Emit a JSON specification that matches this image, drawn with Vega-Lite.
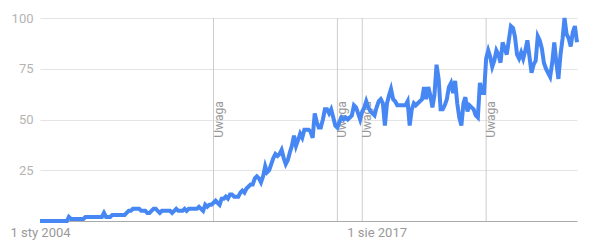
{
  "$schema": "https://vega.github.io/schema/vega-lite/v6.json",
  "width": 537,
  "height": 203,
  "autosize": {"type": "none"},
  "padding": {"left": 40, "top": 18, "right": 13, "bottom": 29},
  "background": "white",
  "config": {
    "view": {"stroke": null},
    "font": "Roboto",
    "axis": {"labelFont": "Roboto", "titleFont": "Roboto"}
  },
  "datasets": {
    "notes": [
      {"d": "2011-01-01"},
      {"d": "2016-01-01"},
      {"d": "2017-01-01"},
      {"d": "2022-01-01"}
    ],
    "trend": [
      {"d":"2004-01-01","v":0},{"d":"2004-02-01","v":0},{"d":"2004-03-01","v":0},{"d":"2004-04-01","v":0},{"d":"2004-05-01","v":0},{"d":"2004-06-01","v":0},{"d":"2004-07-01","v":0},{"d":"2004-08-01","v":0},{"d":"2004-09-01","v":0},{"d":"2004-10-01","v":0},{"d":"2004-11-01","v":0},{"d":"2004-12-01","v":0},
      {"d":"2005-01-01","v":0},{"d":"2005-02-01","v":0},{"d":"2005-03-01","v":2},{"d":"2005-04-01","v":1},{"d":"2005-05-01","v":1},{"d":"2005-06-01","v":1},{"d":"2005-07-01","v":1},{"d":"2005-08-01","v":1},{"d":"2005-09-01","v":1},{"d":"2005-10-01","v":1},{"d":"2005-11-01","v":2},{"d":"2005-12-01","v":2},
      {"d":"2006-01-01","v":2},{"d":"2006-02-01","v":2},{"d":"2006-03-01","v":2},{"d":"2006-04-01","v":2},{"d":"2006-05-01","v":2},{"d":"2006-06-01","v":2},{"d":"2006-07-01","v":2},{"d":"2006-08-01","v":4},{"d":"2006-09-01","v":2},{"d":"2006-10-01","v":2},{"d":"2006-11-01","v":2},{"d":"2006-12-01","v":3},
      {"d":"2007-01-01","v":3},{"d":"2007-02-01","v":3},{"d":"2007-03-01","v":3},{"d":"2007-04-01","v":3},{"d":"2007-05-01","v":3},{"d":"2007-06-01","v":3},{"d":"2007-07-01","v":4},{"d":"2007-08-01","v":5},{"d":"2007-09-01","v":5},{"d":"2007-10-01","v":6},{"d":"2007-11-01","v":6},{"d":"2007-12-01","v":6},
      {"d":"2008-01-01","v":6},{"d":"2008-02-01","v":5},{"d":"2008-03-01","v":5},{"d":"2008-04-01","v":5},{"d":"2008-05-01","v":4},{"d":"2008-06-01","v":4},{"d":"2008-07-01","v":5},{"d":"2008-08-01","v":6},{"d":"2008-09-01","v":6},{"d":"2008-10-01","v":5},{"d":"2008-11-01","v":4},{"d":"2008-12-01","v":5},
      {"d":"2009-01-01","v":5},{"d":"2009-02-01","v":5},{"d":"2009-03-01","v":5},{"d":"2009-04-01","v":5},{"d":"2009-05-01","v":4},{"d":"2009-06-01","v":5},{"d":"2009-07-01","v":6},{"d":"2009-08-01","v":5},{"d":"2009-09-01","v":5},{"d":"2009-10-01","v":5},{"d":"2009-11-01","v":6},{"d":"2009-12-01","v":5},
      {"d":"2010-01-01","v":6},{"d":"2010-02-01","v":6},{"d":"2010-03-01","v":6},{"d":"2010-04-01","v":6},{"d":"2010-05-01","v":6},{"d":"2010-06-01","v":7},{"d":"2010-07-01","v":6},{"d":"2010-08-01","v":5},{"d":"2010-09-01","v":8},{"d":"2010-10-01","v":7},{"d":"2010-11-01","v":8},{"d":"2010-12-01","v":8},
      {"d":"2011-01-01","v":9},{"d":"2011-02-01","v":10},{"d":"2011-03-01","v":9},{"d":"2011-04-01","v":8},{"d":"2011-05-01","v":11},{"d":"2011-06-01","v":11},{"d":"2011-07-01","v":12},{"d":"2011-08-01","v":11},{"d":"2011-09-01","v":13},{"d":"2011-10-01","v":13},{"d":"2011-11-01","v":12},{"d":"2011-12-01","v":12},
      {"d":"2012-01-01","v":12},{"d":"2012-02-01","v":14},{"d":"2012-03-01","v":15},{"d":"2012-04-01","v":14},{"d":"2012-05-01","v":16},{"d":"2012-06-01","v":17},{"d":"2012-07-01","v":18},{"d":"2012-08-01","v":18},{"d":"2012-09-01","v":21},{"d":"2012-10-01","v":22},{"d":"2012-11-01","v":21},{"d":"2012-12-01","v":19},
      {"d":"2013-01-01","v":22},{"d":"2013-02-01","v":27},{"d":"2013-03-01","v":24},{"d":"2013-04-01","v":25},{"d":"2013-05-01","v":28},{"d":"2013-06-01","v":31},{"d":"2013-07-01","v":33},{"d":"2013-08-01","v":32},{"d":"2013-09-01","v":33},{"d":"2013-10-01","v":35},{"d":"2013-11-01","v":31},{"d":"2013-12-01","v":28},
      {"d":"2014-01-01","v":30},{"d":"2014-02-01","v":34},{"d":"2014-03-01","v":37},{"d":"2014-04-01","v":42},{"d":"2014-05-01","v":37},{"d":"2014-06-01","v":40},{"d":"2014-07-01","v":43},{"d":"2014-08-01","v":41},{"d":"2014-09-01","v":45},{"d":"2014-10-01","v":45},{"d":"2014-11-01","v":45},{"d":"2014-12-01","v":44},
      {"d":"2015-01-01","v":41},{"d":"2015-02-01","v":53},{"d":"2015-03-01","v":49},{"d":"2015-04-01","v":46},{"d":"2015-05-01","v":46},{"d":"2015-06-01","v":50},{"d":"2015-07-01","v":55},{"d":"2015-08-01","v":55},{"d":"2015-09-01","v":53},{"d":"2015-10-01","v":55},{"d":"2015-11-01","v":51},{"d":"2015-12-01","v":47},
      {"d":"2016-01-01","v":46},{"d":"2016-02-01","v":49},{"d":"2016-03-01","v":51},{"d":"2016-04-01","v":50},{"d":"2016-05-01","v":51},{"d":"2016-06-01","v":50},{"d":"2016-07-01","v":51},{"d":"2016-08-01","v":52},{"d":"2016-09-01","v":57},{"d":"2016-10-01","v":56},{"d":"2016-11-01","v":53},{"d":"2016-12-01","v":50},
      {"d":"2017-01-01","v":54},{"d":"2017-02-01","v":56},{"d":"2017-03-01","v":59},{"d":"2017-04-01","v":56},{"d":"2017-05-01","v":54},{"d":"2017-06-01","v":53},{"d":"2017-07-01","v":52},{"d":"2017-08-01","v":56},{"d":"2017-09-01","v":59},{"d":"2017-10-01","v":60},{"d":"2017-11-01","v":58},{"d":"2017-12-01","v":47},
      {"d":"2018-01-01","v":58},{"d":"2018-02-01","v":62},{"d":"2018-03-01","v":65},{"d":"2018-04-01","v":60},{"d":"2018-05-01","v":59},{"d":"2018-06-01","v":57},{"d":"2018-07-01","v":57},{"d":"2018-08-01","v":57},{"d":"2018-09-01","v":57},{"d":"2018-10-01","v":57},{"d":"2018-11-01","v":59},{"d":"2018-12-01","v":47},
      {"d":"2019-01-01","v":55},{"d":"2019-02-01","v":58},{"d":"2019-03-01","v":57},{"d":"2019-04-01","v":58},{"d":"2019-05-01","v":59},{"d":"2019-06-01","v":60},{"d":"2019-07-01","v":66},{"d":"2019-08-01","v":60},{"d":"2019-09-01","v":66},{"d":"2019-10-01","v":62},{"d":"2019-11-01","v":56},{"d":"2019-12-01","v":62},
      {"d":"2020-01-01","v":77},{"d":"2020-02-01","v":70},{"d":"2020-03-01","v":55},{"d":"2020-04-01","v":55},{"d":"2020-05-01","v":57},{"d":"2020-06-01","v":60},{"d":"2020-07-01","v":66},{"d":"2020-08-01","v":68},{"d":"2020-09-01","v":63},{"d":"2020-10-01","v":69},{"d":"2020-11-01","v":58},{"d":"2020-12-01","v":51},
      {"d":"2021-01-01","v":47},{"d":"2021-02-01","v":58},{"d":"2021-03-01","v":61},{"d":"2021-04-01","v":54},{"d":"2021-05-01","v":57},{"d":"2021-06-01","v":56},{"d":"2021-07-01","v":55},{"d":"2021-08-01","v":52},{"d":"2021-09-01","v":51},{"d":"2021-10-01","v":68},{"d":"2021-11-01","v":63},{"d":"2021-12-01","v":63},
      {"d":"2022-01-01","v":80},{"d":"2022-02-01","v":84},{"d":"2022-03-01","v":81},{"d":"2022-04-01","v":76},{"d":"2022-05-01","v":79},{"d":"2022-06-01","v":84},{"d":"2022-07-01","v":82},{"d":"2022-08-01","v":78},{"d":"2022-09-01","v":88},{"d":"2022-10-01","v":85},{"d":"2022-11-01","v":82},{"d":"2022-12-01","v":89},
      {"d":"2023-01-01","v":96},{"d":"2023-02-01","v":95},{"d":"2023-03-01","v":91},{"d":"2023-04-01","v":82},{"d":"2023-05-01","v":80},{"d":"2023-06-01","v":83},{"d":"2023-07-01","v":80},{"d":"2023-08-01","v":84},{"d":"2023-09-01","v":89},{"d":"2023-10-01","v":81},{"d":"2023-11-01","v":73},{"d":"2023-12-01","v":77},
      {"d":"2024-01-01","v":79},{"d":"2024-02-01","v":91},{"d":"2024-03-01","v":89},{"d":"2024-04-01","v":85},{"d":"2024-05-01","v":78},{"d":"2024-06-01","v":75},{"d":"2024-07-01","v":73},{"d":"2024-08-01","v":71},{"d":"2024-09-01","v":78},{"d":"2024-10-01","v":88},{"d":"2024-11-01","v":78},{"d":"2024-12-01","v":70},
      {"d":"2025-01-01","v":82},{"d":"2025-02-01","v":90},{"d":"2025-03-01","v":100},{"d":"2025-04-01","v":92},{"d":"2025-05-01","v":90},{"d":"2025-06-01","v":86},{"d":"2025-07-01","v":93},{"d":"2025-08-01","v":96},{"d":"2025-09-01","v":88}
    ]
  },
  "layer": [
    {
      "data": {"name": "notes"},
      "mark": {"type": "rule", "color": "#cccccc", "strokeWidth": 1},
      "encoding": {
        "x": {"field": "d", "type": "temporal"}
      }
    },
    {
      "data": {"name": "notes"},
      "mark": {"type": "text", "text": "Uwaga", "angle": 270, "align": "left", "baseline": "top", "fontSize": 12, "font": "Roboto", "color": "#999999"},
      "encoding": {
        "x": {"field": "d", "type": "temporal"},
        "y": {"datum": 41, "type": "quantitative"}
      }
    },
    {
      "data": {"name": "trend"},
      "mark": {"type": "line", "color": "#4787f4", "strokeWidth": 4},
      "encoding": {
        "x": {
          "field": "d", "type": "temporal",
          "scale": {"type": "utc", "domain": [{"year": 2004, "month": 1, "date": 1, "utc": true}, {"year": 2025, "month": 9, "date": 1, "utc": true}]},
          "axis": {
            "title": null,
            "values": [{"year": 2004, "month": 1, "date": 1, "utc": true}, {"year": 2017, "month": 8, "date": 1, "utc": true}],
            "labelExpr": "(utcmonth(datum.value) == 0 ? '1 sty ' : '1 sie ') + utcyear(datum.value)",
            "grid": false,
            "ticks": false,
            "domainColor": "#aaaaaa",
            "domainWidth": 1,
            "labelColor": "#999999",
            "labelFontSize": 13,
            "labelPadding": 5,
            "labelFlush": false,
            "labelOverlap": false
          }
        },
        "y": {
          "field": "v", "type": "quantitative",
          "scale": {"domain": [0, 100], "nice": false},
          "axis": {
            "title": null,
            "values": [25, 50, 75, 100],
            "grid": true,
            "gridColor": "#e4e4e4",
            "gridWidth": 1,
            "domain": false,
            "ticks": false,
            "labelColor": "#b4b4b4",
            "labelFontSize": 13,
            "labelPadding": 7
          }
        }
      }
    }
  ]
}
